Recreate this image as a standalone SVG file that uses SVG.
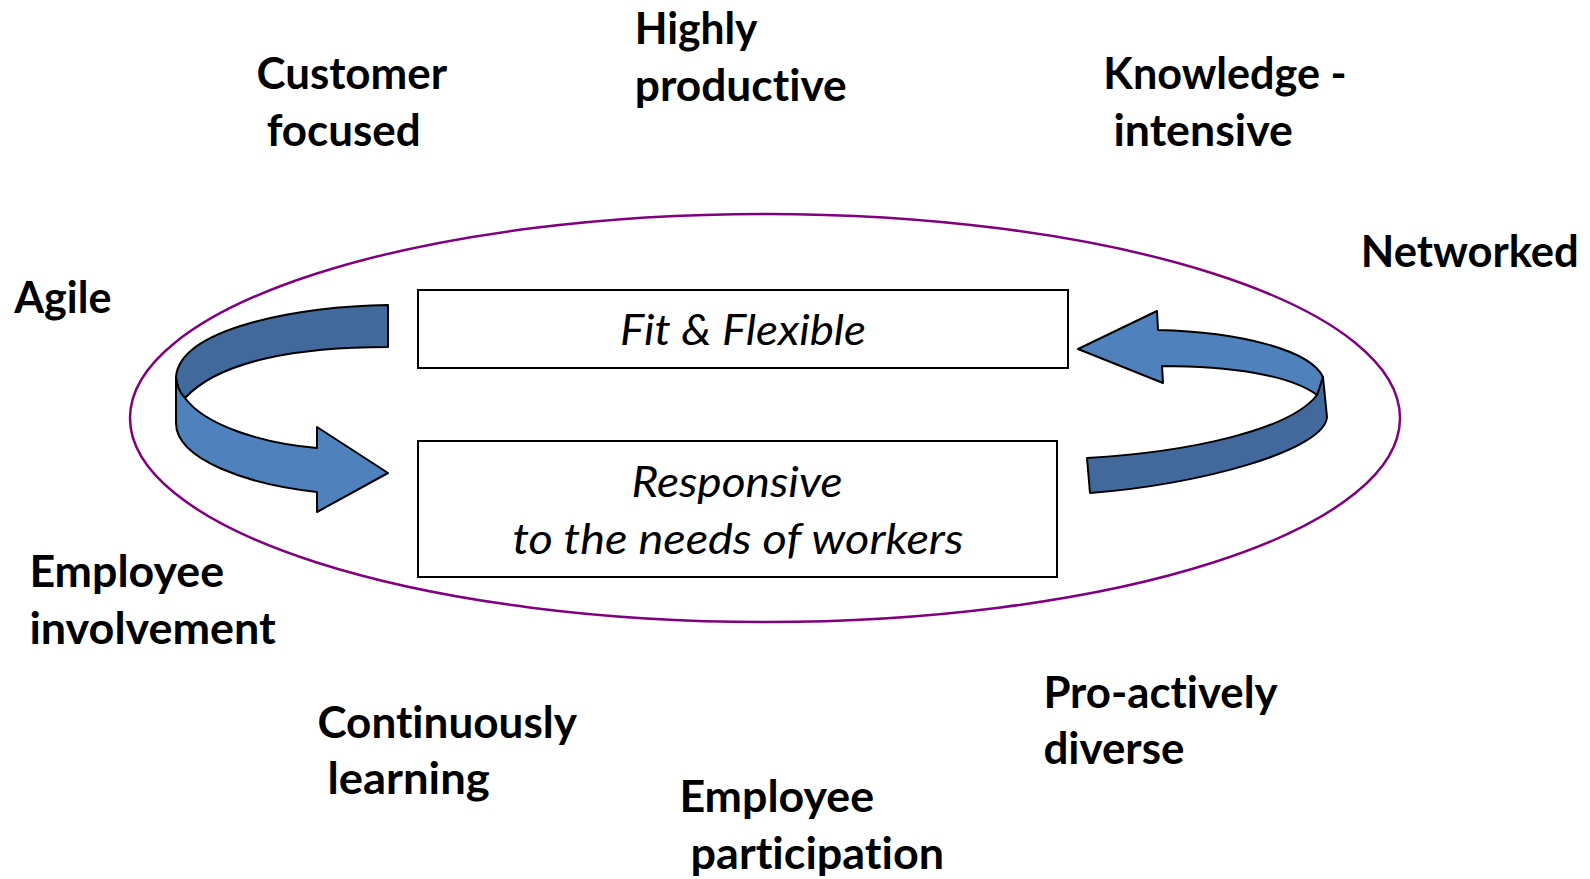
<svg xmlns="http://www.w3.org/2000/svg" width="1590" height="879" viewBox="0 0 1590 879">
  <style>
    .lbl { font-family: Lato, "Open Sans", "Liberation Sans", sans-serif; font-weight: bold; font-size: 43px; fill: #000; font-variant-ligatures: none; }
    .box { fill: #fff; stroke: #000; stroke-width: 2; }
    .boxtxt { font-family: Lato, "Open Sans", "Liberation Sans", sans-serif; font-style: italic; font-size: 43px; fill: #000; text-anchor: middle; font-variant-ligatures: none; }
    .light { fill: #4F81BD; stroke: #000; stroke-width: 2; stroke-linejoin: round; }
    .dark { fill: #41699B; stroke: #000; stroke-width: 2; stroke-linejoin: round; }
  </style>

  <!-- outer ring -->
  <ellipse cx="765" cy="418" rx="635" ry="204" fill="none" stroke="#800080" stroke-width="2.5"/>

  <!-- ribbon arrows -->
  <g id="connectors">
    <g id="arrow-left">
      <path class="dark" d="M388,305 C300,306 180,328 176,377 Q177,390 185,398 C220,360 300,347 388,347 Z"/>
      <path class="light" d="M176,377 L176,423 C176,460 250,485 317,492 L317,512 L388,473 L317,427 L317,448 C260,443 205,425 185,398 Q177,390 176,377 Z"/>
    </g>
    <g id="arrow-right">
      <path class="dark" d="M1323,377 L1327,417 C1325,450 1200,485 1090,493 L1087,458 C1190,452 1290,430 1317,395 Z"/>
      <path class="light" d="M1158,330 C1240,332 1310,350 1323,377 L1317,395 C1290,375 1230,366 1162,366 L1163,383 L1078,349 L1157,311 Z"/>
    </g>
  </g>

  <!-- central boxes -->
  <g id="node-fit">
    <rect class="box" x="418" y="290" width="650" height="78"/>
    <text class="boxtxt" x="743" y="345" textLength="246" lengthAdjust="spacingAndGlyphs">Fit &amp; Flexible</text>
  </g>
  <g id="node-responsive">
    <rect class="box" x="418" y="441" width="639" height="136"/>
    <text class="boxtxt" x="737" y="497" textLength="211" lengthAdjust="spacingAndGlyphs">Responsive</text>
    <text class="boxtxt" x="738" y="554" textLength="451" lengthAdjust="spacingAndGlyphs">to the needs of workers</text>
  </g>

  <!-- surrounding attributes -->
  <g id="node-customer">
    <text class="lbl" x="256.5" y="88.5" textLength="190.6" lengthAdjust="spacingAndGlyphs">Customer</text>
    <text class="lbl" x="266.7" y="145.5" textLength="154" lengthAdjust="spacingAndGlyphs">focused</text>
  </g>
  <g id="node-productive">
    <text class="lbl" x="634.8" y="44" textLength="122.7" lengthAdjust="spacingAndGlyphs">Highly</text>
    <text class="lbl" x="634.8" y="101" textLength="211.9" lengthAdjust="spacingAndGlyphs">productive</text>
  </g>
  <g id="node-knowledge">
    <text class="lbl" x="1103.3" y="88.5" textLength="243.4" lengthAdjust="spacingAndGlyphs">Knowledge -</text>
    <text class="lbl" x="1113.4" y="145.5" textLength="179.5" lengthAdjust="spacingAndGlyphs">intensive</text>
  </g>
  <g id="node-networked">
    <text class="lbl" x="1360.8" y="267" textLength="218" lengthAdjust="spacingAndGlyphs">Networked</text>
  </g>
  <g id="node-agile">
    <text class="lbl" x="14.2" y="313" textLength="97.3" lengthAdjust="spacingAndGlyphs">Agile</text>
  </g>
  <g id="node-involvement">
    <text class="lbl" x="29.4" y="586.5" textLength="194.7" lengthAdjust="spacingAndGlyphs">Employee</text>
    <text class="lbl" x="29.4" y="644" textLength="246.4" lengthAdjust="spacingAndGlyphs">involvement</text>
  </g>
  <g id="node-learning">
    <text class="lbl" x="317.4" y="737.5" textLength="259.6" lengthAdjust="spacingAndGlyphs">Continuously</text>
    <text class="lbl" x="327.5" y="793.5" textLength="162.2" lengthAdjust="spacingAndGlyphs">learning</text>
  </g>
  <g id="node-diverse">
    <text class="lbl" x="1043.4" y="707.5" textLength="234.2" lengthAdjust="spacingAndGlyphs">Pro-actively</text>
    <text class="lbl" x="1043.4" y="763.5" textLength="141" lengthAdjust="spacingAndGlyphs">diverse</text>
  </g>
  <g id="node-participation">
    <text class="lbl" x="679.4" y="812" textLength="194.7" lengthAdjust="spacingAndGlyphs">Employee</text>
    <text class="lbl" x="690.6" y="868.5" textLength="253.5" lengthAdjust="spacingAndGlyphs">participation</text>
  </g>
</svg>
